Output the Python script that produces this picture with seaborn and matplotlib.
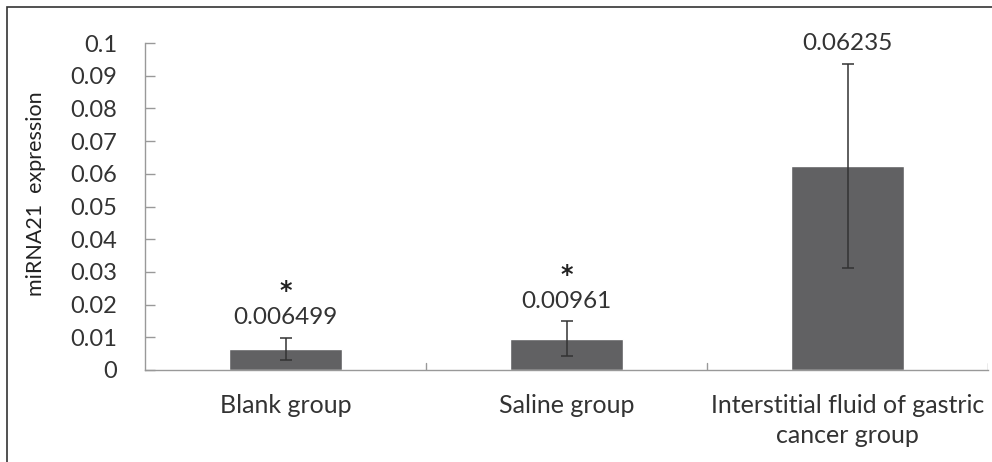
import matplotlib
matplotlib.use("Agg")
import matplotlib.pyplot as plt
import seaborn as sns
import pandas as pd
from matplotlib.patches import Rectangle

categories = ["Blank group", "Saline group", "Interstitial fluid of gastric\ncancer group"]
values = [0.006499, 0.00961, 0.06235]
errors = [0.0033, 0.0053, 0.0312]
value_labels = ["0.006499", "0.00961", "0.06235"]
stars = ["*", "*", ""]
yticks = [0, 0.01, 0.02, 0.03, 0.04, 0.05, 0.06, 0.07, 0.08, 0.09, 0.1]
ytick_labels = ["0", "0.01", "0.02", "0.03", "0.04", "0.05", "0.06", "0.07", "0.08", "0.09", "0.1"]

sns.set_style("white")
plt.rcParams['font.family'] = ['Lato', 'DejaVu Sans']

df = pd.DataFrame({"group": categories, "value": values})

fig = plt.figure(figsize=(9.92, 4.62), dpi=100)
ax = fig.add_axes([145/992, 1-370/462, (988-145)/992, (370-43)/462])

sns.barplot(data=df, x="group", y="value", color="#616163", saturation=1,
            width=0.4, ax=ax, errorbar=None)
ax.errorbar(range(len(categories)), values, yerr=errors, fmt="none",
            ecolor="#333333", elinewidth=1.1, capsize=4.5, capthick=1.1)

ax.set_xlim(-0.5, len(categories) - 0.5)
ax.set_ylim(0, 0.1)
ax.set_yticks(yticks)
ax.set_yticklabels(ytick_labels)
ax.set_xticks(range(len(categories)))
ax.set_xticklabels(categories, linespacing=1.4)
ax.set_xlabel("")
ax.set_ylabel("miRNA21  expression", fontsize=15.5, color="#222222")
ax.yaxis.set_label_coords(-0.118, 0.54)

ax.tick_params(axis="y", direction="in", length=7, width=1, color="#999999",
               labelsize=17, labelcolor="#333333", pad=20, left=True)
ax.tick_params(axis="x", length=0, labelsize=18, labelcolor="#333333", pad=17)
for b in [0.5, 1.5, 2.5]:
    ax.axvline(b, ymin=0, ymax=0.022, color="#999999", lw=1)

for s in ["top", "right"]:
    ax.spines[s].set_visible(False)
for s in ["left", "bottom"]:
    ax.spines[s].set_color("#999999")
    ax.spines[s].set_linewidth(1)

for i, (v, e) in enumerate(zip(values, errors)):
    top = v + e
    ax.annotate(value_labels[i], (i, top), xytext=(0, 7), textcoords="offset points",
                ha="center", va="bottom", fontsize=17.5, color="#333333")
    if stars[i]:
        ax.annotate(stars[i], (i, top), xytext=(0, 25), textcoords="offset points",
                    ha="center", va="bottom", fontsize=17, fontweight="bold",
                    color="#222222", family=["DejaVu Sans"])

fig.patches.append(Rectangle((7/992, -0.1), 1.2, 1 - 7/462 + 0.1, transform=fig.transFigure,
                             fill=False, edgecolor="#333333", lw=1.2))

fig.savefig("out.png", dpi=100)
